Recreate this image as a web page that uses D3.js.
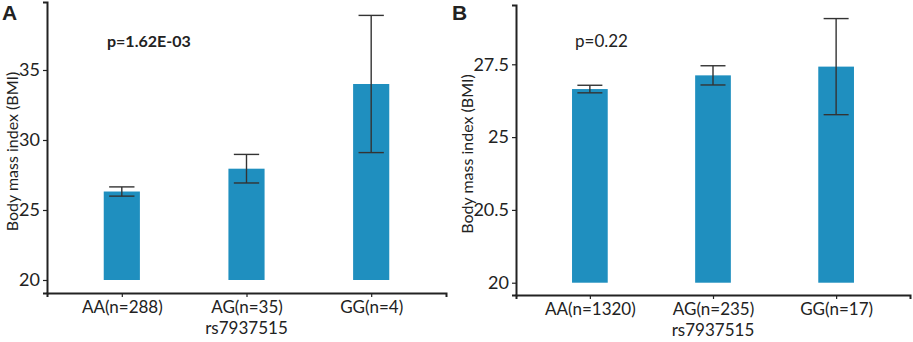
<!DOCTYPE html>
<html>
<head>
<meta charset="utf-8">
<script src="https://cdn.jsdelivr.net/npm/d3@7/dist/d3.min.js"></script>
<style>
  html, body { margin: 0; padding: 0; background: #fff; }
  svg { display: block; }
  text { font-family: Lato, "Open Sans", sans-serif; fill: #222; }
</style>
</head>
<body>
<svg id="chart" width="913" height="342"></svg>
<script>
// ---- data ----
const categoriesA = ["AA(n=288)", "AG(n=35)", "GG(n=4)"];
const meansA = [26.32, 27.95, 34.0];
const errorsA = [0.33, 1.02, 4.9];
const tickValuesA = [20, 25, 30, 35];
const tickLabelsA = ["20", "25", "30", "35"];
const pTextA = "p=1.62E-03";

const categoriesB = ["AA(n=1320)", "AG(n=235)", "GG(n=17)"];
const meansB = [26.65, 27.12, 27.42];
const errorsB = [0.13, 0.33, 1.65];
const tickValuesB = [20, 22.5, 25, 27.5];
const tickLabelsB = ["20", "20.5", "25", "27.5"];
const pTextB = "p=0.22";

const xTitle = "rs7937515";
const yTitle = "Body mass index (BMI)";

const svg = d3.select("#chart");
const barColor = "#1f8fbf";
const errColor = "#333";

function panel(cfg) {
  const g = svg.append("g");
  const x = d3.scalePoint().domain(cfg.cats).range(cfg.xRange).padding(0.6);
  const y = d3.scaleLinear().domain(cfg.yDomain).range(cfg.yRange);
  const bw = x.step() * 0.29;
  const cw = bw * 0.7;
  const data = cfg.cats.map((c, i) => ({ c, m: cfg.means[i], e: cfg.errs[i] }));

  g.selectAll("rect.bar").data(data).join("rect")
    .attr("class", "bar")
    .attr("x", d => x(d.c) - bw / 2)
    .attr("width", bw)
    .attr("y", d => y(d.m))
    .attr("height", d => y(cfg.base) - y(d.m))
    .attr("fill", barColor);

  const eb = g.selectAll("g.err").data(data).join("g").attr("class", "err")
    .attr("stroke", errColor).attr("stroke-width", 1.4);
  eb.append("line")
    .attr("x1", d => x(d.c)).attr("x2", d => x(d.c))
    .attr("y1", d => y(d.m + d.e)).attr("y2", d => y(d.m - d.e));
  eb.append("line")
    .attr("x1", d => x(d.c) - cw / 2).attr("x2", d => x(d.c) + cw / 2)
    .attr("y1", d => y(d.m + d.e)).attr("y2", d => y(d.m + d.e));
  eb.append("line")
    .attr("x1", d => x(d.c) - cw / 2).attr("x2", d => x(d.c) + cw / 2)
    .attr("y1", d => y(d.m - d.e)).attr("y2", d => y(d.m - d.e));

  // y axis
  const ya = g.append("g")
    .attr("transform", `translate(${cfg.xRange[0]},0)`)
    .call(d3.axisLeft(y).tickValues(cfg.ticks)
      .tickFormat((d, i) => cfg.tickLabels[i]).tickSizeOuter(0).tickSize(4).tickPadding(3));
  ya.select(".domain").attr("stroke", "#222").attr("stroke-width", 2);
  ya.selectAll(".tick line").attr("stroke", "#222").attr("stroke-width", 1.2);
  ya.selectAll(".tick text").attr("font-size", 18).attr("fill", "#222")
    .style("font-family", "Lato, 'Open Sans', sans-serif");

  // x axis
  const xa = g.append("g")
    .attr("transform", `translate(0,${cfg.yRange[0]})`)
    .call(d3.axisBottom(x).tickSizeOuter(0).tickSize(4).tickPadding(4));
  xa.select(".domain").attr("stroke", "#222").attr("stroke-width", 2);
  xa.selectAll(".tick line").attr("stroke", "#222").attr("stroke-width", 1.2);
  xa.selectAll(".tick text").attr("font-size", 17).attr("fill", "#222")
    .style("font-family", "Lato, 'Open Sans', sans-serif");

  g.append("text")
    .attr("x", x(cfg.cats[1])).attr("y", cfg.yRange[0] + 41)
    .attr("text-anchor", "middle").attr("font-size", 17)
    .text(xTitle);

  g.append("text")
    .attr("transform", `translate(${cfg.yTitleX},${(cfg.yRange[0] + cfg.yRange[1]) / 2 + 4}) rotate(-90)`)
    .attr("text-anchor", "middle").attr("font-size", 16)
    .text(yTitle);

  g.append("text")
    .attr("x", cfg.pX).attr("y", 47)
    .attr("font-size", cfg.pSize).attr("font-weight", cfg.pBold ? "bold" : "normal")
    .text(cfg.pText);

  g.append("text")
    .attr("x", cfg.labelX).attr("y", 20)
    .attr("font-size", 21).attr("font-weight", "bold")
    .style("font-family", "Arial, 'Liberation Sans', sans-serif")
    .text(cfg.label);
}

panel({
  cats: categoriesA, means: meansA, errs: errorsA,
  xRange: [47, 446], yDomain: [19.071, 39.857], yRange: [293, 2],
  base: 20, ticks: tickValuesA, tickLabels: tickLabelsA,
  yTitleX: 18, pX: 107, pText: pTextA, pBold: true, pSize: 16, label: "A", labelX: 2
});

panel({
  cats: categoriesB, means: meansB, errs: errorsB,
  xRange: [516, 910], yDomain: [19.578, 29.536], yRange: [295, 5],
  base: 20, ticks: tickValuesB, tickLabels: tickLabelsB,
  yTitleX: 473, pX: 575, pText: pTextB, pBold: false, pSize: 17, label: "B", labelX: 452
});
</script>
</body>
</html>
